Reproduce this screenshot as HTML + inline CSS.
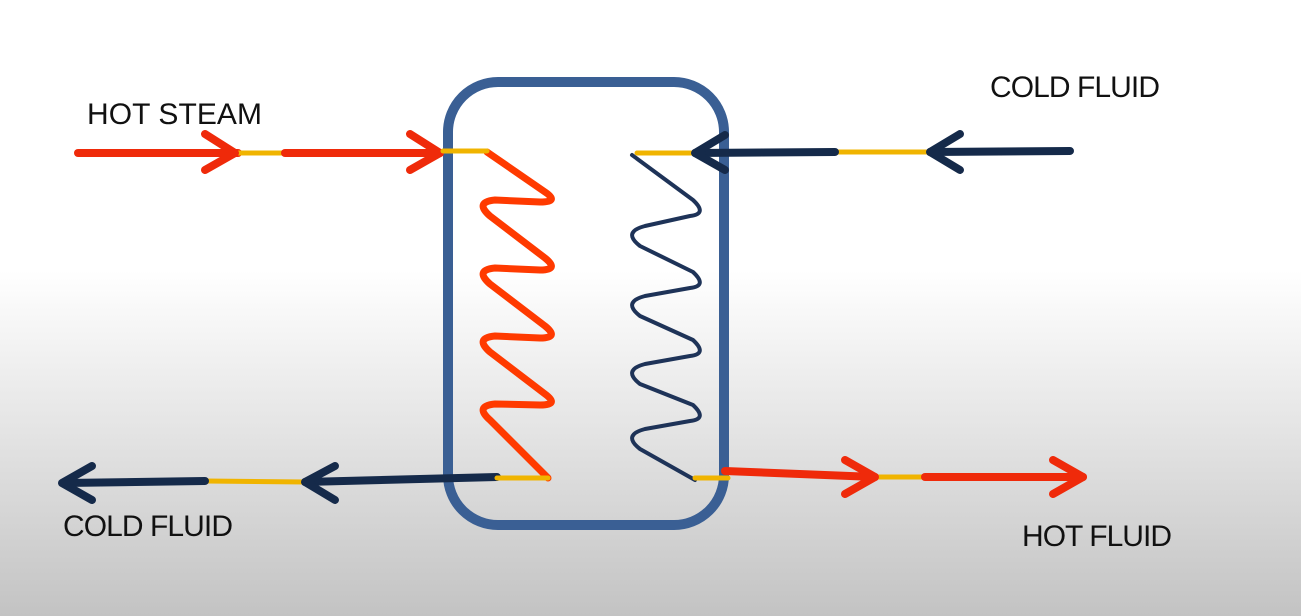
<!DOCTYPE html>
<html><head><style>
body{margin:0;width:1301px;height:616px;overflow:hidden;background:linear-gradient(to bottom,#fff 0,#fff 270px,#e6e6e6 420px,#c3c3c3 616px);font-family:"Liberation Sans",sans-serif;}
svg{position:absolute;left:0;top:0}
</style></head><body>
<svg width="1301" height="616" viewBox="0 0 1301 616">
<g fill="none" stroke-linecap="round" stroke-linejoin="round">
<rect x="448" y="82" width="276" height="443" rx="50" stroke="#3a5f94" stroke-width="10"/>
<!-- red coil -->
<path d="M487,152 L545,192 Q560,202 540,202 L495,200 Q474,202 490,216 L545,258 Q560,270 540,270 L495,268 Q474,270 490,284 L545,326 Q560,338 540,338 L495,336 Q474,338 490,352 L545,394 Q560,405 540,405 L495,404 Q474,406 490,420 L548,478" stroke="#ff3a00" stroke-width="7"/>
<!-- blue coil -->
<path d="M632,155 L693,200 Q708,214 690,216 L645,226 Q622,232 640,246 L693,272 Q708,286 690,288 L645,296 Q622,302 640,316 L693,340 Q708,354 690,356 L645,364 Q622,370 640,384 L693,405 Q708,419 690,421 L645,429 Q622,435 640,449 L695,480" stroke="#1e3358" stroke-width="4"/>
<!-- hot steam -->
<line x1="78" y1="153" x2="238" y2="153" stroke="#ef2a0a" stroke-width="8"/>
<line x1="238" y1="153" x2="285" y2="153" stroke="#f0b400" stroke-width="5"/>
<line x1="285" y1="153" x2="440" y2="153" stroke="#ef2a0a" stroke-width="8"/>
<polyline points="205,134 235,153 205,170" stroke="#ef2a0a" stroke-width="8"/>
<polyline points="410,134 440,153 410,170" stroke="#ef2a0a" stroke-width="8"/>
<line x1="443" y1="151" x2="487" y2="151" stroke="#f0b400" stroke-width="5"/>
<!-- cold fluid top -->
<line x1="1070" y1="151" x2="930" y2="152" stroke="#152a4a" stroke-width="8"/>
<line x1="930" y1="152" x2="835" y2="152" stroke="#f0b400" stroke-width="5"/>
<line x1="835" y1="152" x2="695" y2="153" stroke="#152a4a" stroke-width="8"/>
<line x1="695" y1="153" x2="637" y2="153" stroke="#f0b400" stroke-width="5"/>
<polyline points="960,134 930,152 960,170" stroke="#152a4a" stroke-width="8"/>
<polyline points="725,135 695,153 725,170" stroke="#152a4a" stroke-width="8"/>
<!-- cold fluid bottom -->
<line x1="497" y1="477" x2="305" y2="482" stroke="#152a4a" stroke-width="8"/>
<line x1="497" y1="478" x2="548" y2="478" stroke="#f0b400" stroke-width="5"/>
<line x1="305" y1="482" x2="205" y2="481" stroke="#f0b400" stroke-width="5"/>
<line x1="205" y1="481" x2="65" y2="483" stroke="#152a4a" stroke-width="8"/>
<polyline points="335,466 305,482 335,500" stroke="#152a4a" stroke-width="8"/>
<polyline points="92,466 62,483 92,500" stroke="#152a4a" stroke-width="8"/>
<!-- hot fluid -->
<line x1="695" y1="478" x2="728" y2="478" stroke="#f0b400" stroke-width="5"/>
<line x1="725" y1="471" x2="875" y2="477" stroke="#ef2a0a" stroke-width="8"/>
<line x1="875" y1="477" x2="925" y2="477" stroke="#f0b400" stroke-width="5"/>
<line x1="925" y1="477" x2="1083" y2="477" stroke="#ef2a0a" stroke-width="8"/>
<polyline points="845,460 875,477 845,494" stroke="#ef2a0a" stroke-width="8"/>
<polyline points="1053,460 1083,477 1053,494" stroke="#ef2a0a" stroke-width="8"/>
</g>
<g font-family="Liberation Sans, sans-serif" font-size="30" fill="#111">
<text x="87" y="124" textLength="175">HOT STEAM</text>
<text x="990" y="97" textLength="170">COLD FLUID</text>
<text x="63" y="536" textLength="170">COLD FLUID</text>
<text x="1022" y="546" textLength="150">HOT FLUID</text>
</g>
</svg>
</body></html>
